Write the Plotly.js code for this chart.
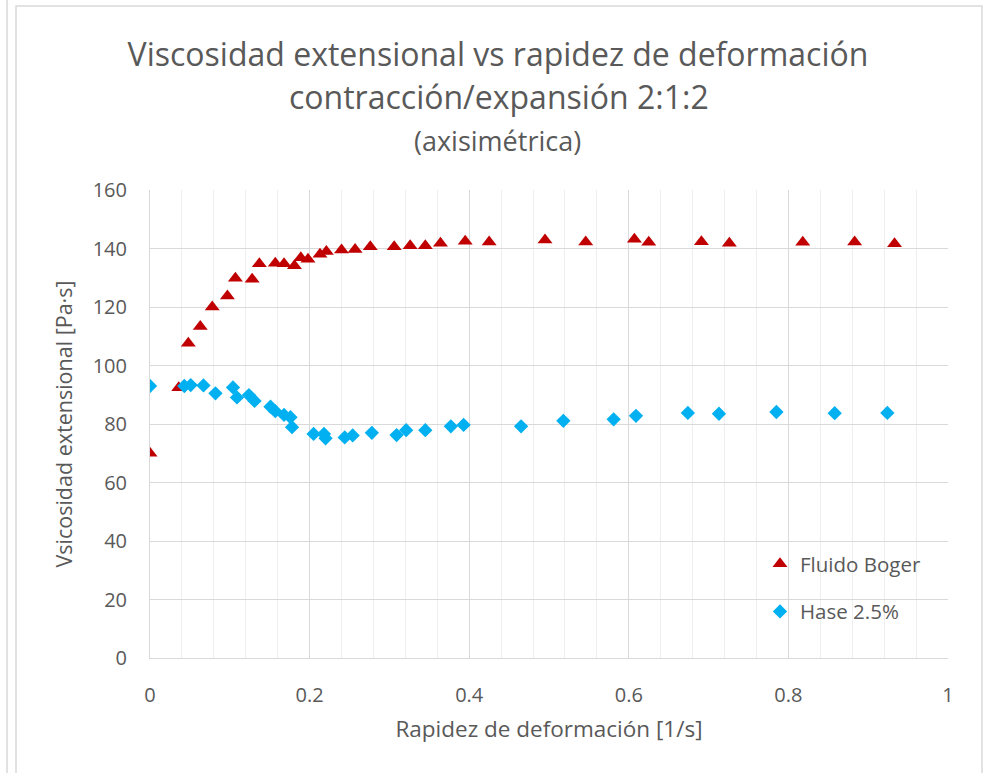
<!DOCTYPE html>
<html>
<head>
<meta charset="utf-8">
<script src="https://cdn.plot.ly/plotly-3.0.1.min.js"></script>
<style>
html,body{margin:0;padding:0;background:#fff;}
#chart{width:987px;height:773px;}
</style>
</head>
<body>
<div id="chart"></div>
<script>
// ---- data ----
const titleLine1 = "Viscosidad extensional vs rapidez de deformación";
const titleLine2 = "contracción/expansión 2:1:2";
const titleLine3 = "(axisimétrica)";
const xAxisTitle = "Rapidez de deformación [1/s]";
const yAxisTitle = "Vsicosidad extensional [Pa·s]";

const bogerName = "Fluido Boger";
const bogerX = [0, 0.036, 0.048, 0.063, 0.078, 0.097, 0.107, 0.128, 0.137, 0.157, 0.168, 0.181, 0.189, 0.198, 0.213, 0.221, 0.240, 0.257, 0.276, 0.306, 0.326, 0.345, 0.364, 0.395, 0.425, 0.495, 0.546, 0.607, 0.625, 0.691, 0.726, 0.818, 0.883, 0.933];
const bogerY = [70, 92.4, 107.6, 113.3, 120, 123.8, 129.8, 129.5, 134.8, 135, 134.8, 134.1, 136.8, 136.3, 138, 139, 139.5, 139.7, 140.6, 140.6, 140.9, 140.9, 141.8, 142.5, 142.2, 142.9, 142.2, 143.2, 142.1, 142.3, 141.8, 142.1, 142.2, 141.6];

const haseName = "Hase 2.5%";
const haseX = [0, 0.043, 0.051, 0.067, 0.082, 0.104, 0.109, 0.124, 0.131, 0.151, 0.157, 0.168, 0.176, 0.178, 0.205, 0.218, 0.220, 0.244, 0.254, 0.278, 0.309, 0.321, 0.345, 0.377, 0.393, 0.465, 0.518, 0.581, 0.609, 0.674, 0.713, 0.785, 0.858, 0.924];
const haseY = [93, 93, 93.3, 93.2, 90.5, 92.5, 89.1, 89.9, 87.9, 85.9, 84.4, 83.1, 82.3, 78.9, 76.6, 76.6, 75.1, 75.4, 76.1, 77.0, 76.2, 77.9, 77.9, 79.2, 79.7, 79.2, 81.1, 81.6, 82.8, 83.8, 83.5, 84.1, 83.7, 83.8];

const xTickVals = [0, 0.2, 0.4, 0.6, 0.8, 1];
const xTickText = ["0", "0.2", "0.4", "0.6", "0.8", "1"];
const yTickVals = [0, 20, 40, 60, 80, 100, 120, 140, 160];

// ---- chart ----
const FONT = "'Open Sans', 'Noto Sans', sans-serif";
const TXT = "#595959";
const GRID = "#d9d9d9";

const traces = [
  {
    x: bogerX, y: bogerY, name: bogerName, type: "scatter", mode: "markers",
    legendgroup: "a",
    marker: {symbol: "triangle-up", size: 13, color: "#C00000"}
  },
  {
    x: haseX, y: haseY, name: haseName, type: "scatter", mode: "markers",
    legendgroup: "b",
    marker: {symbol: "diamond", size: 11, color: "#00B0F0"}
  }
];

// plot area in px: left 150, right 948, top 190, bottom 658
const W = 987, H = 773, L = 150, R = 948, T = 190, B = 658;
const px2x = p => (p - L) / (R - L);
const px2y = p => (B - p) / (B - T);

const layout = {
  width: W, height: H,
  margin: {l: L, r: W - R, t: T, b: H - B, pad: 0},
  paper_bgcolor: "#fff", plot_bgcolor: "#fff",
  font: {family: FONT, color: TXT, size: 20},
  showlegend: true,
  title: {
    text: titleLine1,
    font: {family: FONT, size: 32, color: TXT},
    x: 498 / W, xref: "container", xanchor: "center",
    y: 1 - 55 / H, yref: "container", yanchor: "middle"
  },
  annotations: [
    {text: titleLine2, xref: "paper", yref: "paper", x: px2x(499), y: px2y(96),
     xanchor: "center", yanchor: "middle", showarrow: false,
     font: {family: FONT, size: 32, color: TXT}},
    {text: titleLine3, xref: "paper", yref: "paper", x: px2x(497), y: px2y(141),
     xanchor: "center", yanchor: "middle", showarrow: false,
     font: {family: FONT, size: 27, color: TXT}}
  ],
  xaxis: {
    range: [0, 1], tickvals: xTickVals, ticktext: xTickText,
    showgrid: true, gridcolor: GRID, gridwidth: 1,
    minor: {dtick: 0.04, showgrid: true, gridcolor: "#eeeeee", gridwidth: 1},
    showline: true, linecolor: GRID, linewidth: 1,
    zeroline: false, ticks: "", ticklabelstandoff: 19,
    tickfont: {family: FONT, size: 20, color: TXT},
    title: {text: xAxisTitle, font: {family: FONT, size: 22.5, color: TXT}, standoff: 14},
    automargin: false, fixedrange: true
  },
  yaxis: {
    range: [0, 160], tickvals: yTickVals,
    showgrid: true, gridcolor: GRID, gridwidth: 1,
    showline: true, linecolor: GRID, linewidth: 1,
    zeroline: false, ticks: "", ticklabelstandoff: 18,
    tickfont: {family: FONT, size: 20, color: TXT},
    title: {text: yAxisTitle, font: {family: FONT, size: 21.5, color: TXT}, standoff: 14},
    automargin: false, fixedrange: true
  },
  legend: {
    x: px2x(760), y: px2y(544), xanchor: "left", yanchor: "top",
    bgcolor: "rgba(0,0,0,0)", borderwidth: 0,
    font: {family: FONT, size: 20.5, color: TXT},
    traceorder: "grouped", tracegroupgap: 18
  },
  shapes: [
    {type: "line", xref: "paper", yref: "paper", x0: px2x(7), x1: px2x(7), y0: px2y(0), y1: px2y(H + 5),
     line: {color: GRID, width: 1.5}},
    {type: "rect", xref: "paper", yref: "paper", x0: px2x(16), x1: px2x(982), y0: px2y(6), y1: px2y(H + 5),
     line: {color: GRID, width: 1.5}, fillcolor: "rgba(0,0,0,0)"}
  ]
};

Plotly.newPlot("chart", traces, layout, {displayModeBar: false, staticPlot: true});
</script>
</body>
</html>
